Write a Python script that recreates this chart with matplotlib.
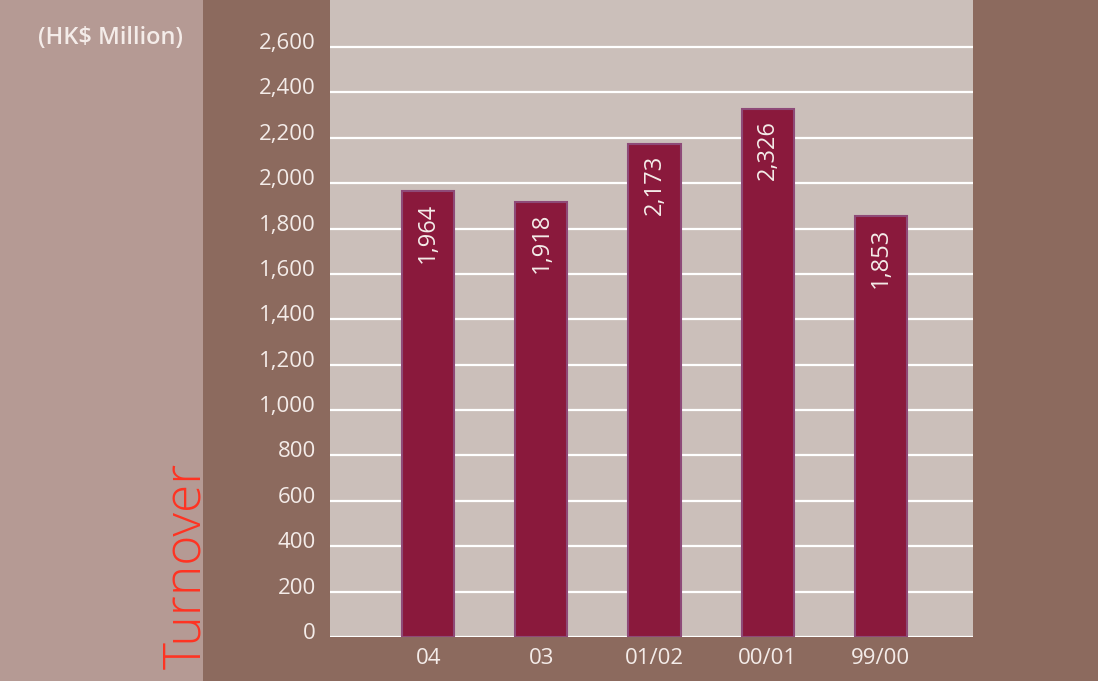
import matplotlib
matplotlib.use("Agg")
import matplotlib.pyplot as plt
import matplotlib.transforms as mtransforms
from matplotlib.patches import Rectangle

plt.rcParams['font.family'] = ['Open Sans', 'DejaVu Sans']

years = ["04", "03", "01/02", "00/01", "99/00"]
turnover = [1964, 1918, 2173, 2326, 1853]
yticks = list(range(0, 2601, 200))

dark = "#8c6a5e"
pale = "#b59a94"
area = "#cbbfba"
bar_col = "#8a193c"
edge_col = "#8e4a78"
txt = "#f4ece9"

fig = plt.figure(figsize=(10.98, 6.81), dpi=100, facecolor=dark)
fig.patches.append(Rectangle((0, 0), 203 / 1098, 1, transform=fig.transFigure,
                             facecolor=pale, edgecolor="none", zorder=0))

ax = fig.add_axes([330 / 1098, 44 / 681, 643 / 1098, 637 / 681])
ax.set_facecolor(area)
ax.set_xlim(-0.867, 4.814)
ax.set_ylim(0, 2807)
for s in ax.spines.values():
    s.set_visible(False)

for t in yticks:
    ax.axhline(t, color="white", lw=1.6, zorder=1)

x = range(len(years))
ax.bar(x, turnover, width=0.46, color=bar_col, edgecolor=edge_col, linewidth=1.5, zorder=2)
for i, v in enumerate(turnover):
    ax.annotate(f"{v:,}", (i, v), xytext=(0, -8), textcoords="offset points",
                rotation=90, ha="center", va="top", color=txt, fontsize=17, zorder=3)

ax.set_yticks(yticks)
ax.set_yticklabels([f"{t:,}" for t in yticks])
ax.set_xticks(list(x))
ax.set_xticklabels(years)
ax.tick_params(length=0, colors=txt, labelsize=16)
ax.tick_params(axis="y", pad=10)
ax.tick_params(axis="x", pad=8)
up = mtransforms.ScaledTranslation(0, 6 / 100, fig.dpi_scale_trans)
for lab in ax.get_yticklabels():
    lab.set_transform(lab.get_transform() + up)

fig.text(183 / 1098, 1 - 38 / 681, "(HK$ Million)", ha="right", va="center",
         color=txt, fontsize=17, fontweight="semibold")
fig.text(212 / 1098, 1 - 566 / 681, "Turnover", rotation=90, ha="right", va="center",
         color="#ff3322", fontsize=37, fontweight="light")

fig.savefig("out.png", dpi=100, facecolor=dark)
